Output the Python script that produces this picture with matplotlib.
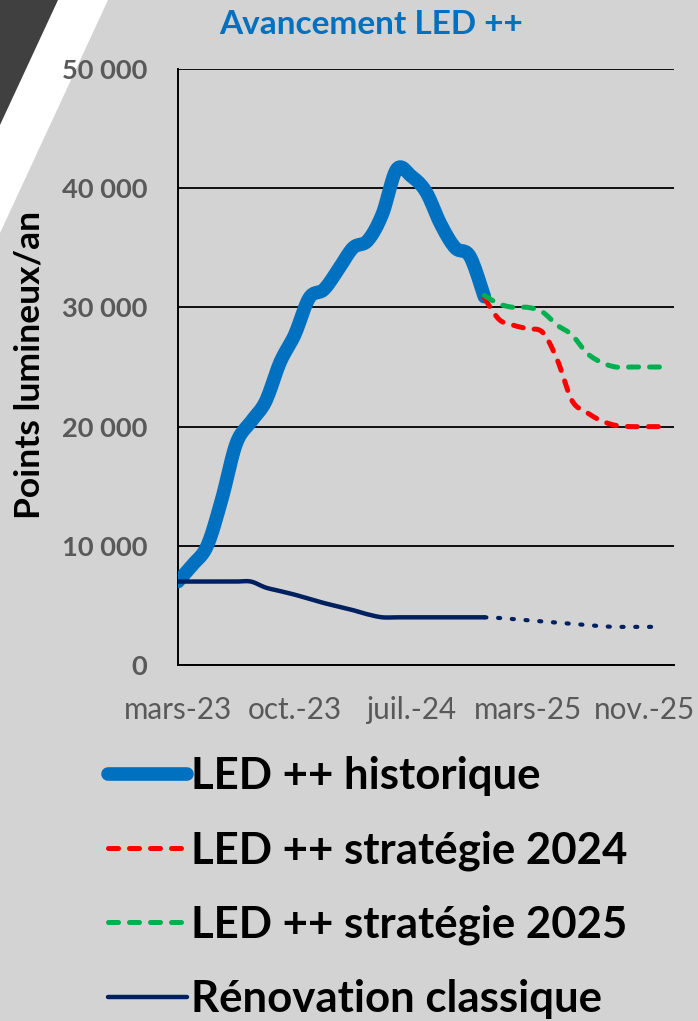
import numpy as np
import matplotlib
matplotlib.use("Agg")
import matplotlib.pyplot as plt
from matplotlib.patches import Polygon

plt.rcParams['font.family'] = ['Lato', 'DejaVu Sans']

# category positions (Excel text axis, one label every 8 categories)
tick_pos = [0, 8, 16, 24, 32]
tick_labels = ['mars-23', 'oct.-23', 'juil.-24', 'mars-25', 'nov.-25']

x_hist = np.arange(0, 22)
led_hist = [7000, 8400, 10000, 13900, 18600, 20400, 22100, 25400, 27700, 30800,
            31500, 33200, 35000, 35600, 37800, 41600, 41000, 39700, 37000, 35000,
            34300, 30900]

x_proj = np.arange(21, 34)
led_2024 = [30800, 29000, 28500, 28200, 27900, 25600, 22200, 21200, 20500, 20100,
            20000, 20000, 20000]
led_2025 = [31000, 30300, 30000, 30000, 29600, 28500, 27700, 26200, 25400, 25000,
            25000, 25000, 25000]

reno_hist = [7000, 7000, 7000, 7000, 7000, 7000, 6500, 6200, 5900, 5550,
             5200, 4900, 4600, 4250, 4000, 4000, 4000, 4000, 4000, 4000,
             4000, 4000]
reno_proj = [4000, 3950, 3850, 3750, 3650, 3550, 3450, 3350, 3250, 3200,
             3200, 3200, 3200]

BG = '#D3D3D3'
GREY = '#595959'


def smooth(x, y, steps=12):
    """ Catmull-Rom path through the points, like Excel's smoothed lines """
    p = np.column_stack([x, y]).astype(float)
    p = np.vstack([p[0], p, p[-1]])
    t = np.linspace(0, 1, steps, endpoint=False)[:, None]
    out = []
    for i in range(1, len(p) - 2):
        p0, p1, p2, p3 = p[i - 1], p[i], p[i + 1], p[i + 2]
        out.append(0.5 * (2 * p1 + (-p0 + p2) * t
                          + (2 * p0 - 5 * p1 + 4 * p2 - p3) * t ** 2
                          + (-p0 + 3 * p1 - 3 * p2 + p3) * t ** 3))
    out.append(p[-2][None, :])
    out = np.vstack(out)
    return out[:, 0], out[:, 1]


W, H = 698, 1021
fig = plt.figure(figsize=(W / 100, H / 100), dpi=100, facecolor=BG)


def px(x, y):
    return (x / W, 1 - y / H)


# top-left decoration
fig.patches.append(Polygon([px(0, 0), px(108, 0), px(0, 233)], closed=True,
                           transform=fig.transFigure, facecolor='white', edgecolor='none', zorder=-2))
fig.patches.append(Polygon([px(0, 0), px(58, 0), px(0, 125)], closed=True,
                           transform=fig.transFigure, facecolor='#404040', edgecolor='none', zorder=-1))

ax = fig.add_axes([178 / W, 1 - 665 / H, (674 - 178) / W, (665 - 69) / H])
ax.set_facecolor('none')

ax.plot(*smooth(x_hist, led_hist), color='#0070C0', lw=9.8, solid_capstyle='round',
        solid_joinstyle='round', label='LED ++ historique', zorder=3)
ax.plot(*smooth(x_hist, reno_hist), color='#002060', lw=3.2, solid_capstyle='round',
        solid_joinstyle='round', zorder=4)
ax.plot(*smooth(x_proj, reno_proj), color='#002060', lw=3.0, linestyle=(0, (0.5, 2.8)),
        dash_capstyle='round', zorder=4)
ax.plot(*smooth(x_proj, led_2024), color='#FF0000', lw=3.6, linestyle=(0, (2, 2.2)),
        dash_capstyle='round', dash_joinstyle='round', label='LED ++ stratégie 2024', zorder=5)
ax.plot(*smooth(x_proj, led_2025), color='#00B050', lw=3.6, linestyle=(0, (2, 2.2)),
        dash_capstyle='round', dash_joinstyle='round', label='LED ++ stratégie 2025', zorder=6)
# legend entry for the classic renovation line
ax.plot([], [], color='#002060', lw=3.2, solid_capstyle='round', label='Rénovation classique')

ax.set_xlim(0, 34)
ax.set_ylim(0, 50000)
ax.set_yticks(range(0, 50001, 10000))
ax.set_yticklabels(['0', '10 000', '20 000', '30 000', '40 000', '50 000'])
ax.set_xticks(tick_pos)
ax.set_xticklabels(tick_labels)
ax.tick_params(axis='y', length=0, pad=22, labelsize=19.6, labelcolor=GREY)
ax.tick_params(axis='x', length=0, pad=22, labelsize=21.3, labelcolor=GREY)
for lbl in ax.get_yticklabels():
    lbl.set_fontweight('bold')

ax.grid(axis='y', color='black', lw=1.3, zorder=1)
ax.set_axisbelow(True)
for side in ['top', 'right']:
    ax.spines[side].set_visible(False)
for side in ['left', 'bottom']:
    ax.spines[side].set_color('black')
    ax.spines[side].set_linewidth(1.4)

fig.text(371 / W, 1 - 25 / H, 'Avancement LED ++', color='#0070C0', fontsize=24,
         fontweight='bold', ha='center', va='center')
fig.text(30 / W, 1 - 365 / H, 'Points lumineux/an', color='black', fontsize=25.5,
         fontweight='bold', rotation=90, ha='center', va='center')

handles, labels = ax.get_legend_handles_labels()
fig.legend(handles, labels, loc='upper left', bbox_to_anchor=(108 / W, 1 - 756 / H),
           frameon=False, handlelength=1.8, handletextpad=0.1,
           labelspacing=0.78, borderaxespad=0, borderpad=0,
           prop={'weight': 'bold', 'size': 31.5})

fig.savefig('out.png', dpi=100, facecolor=BG)
